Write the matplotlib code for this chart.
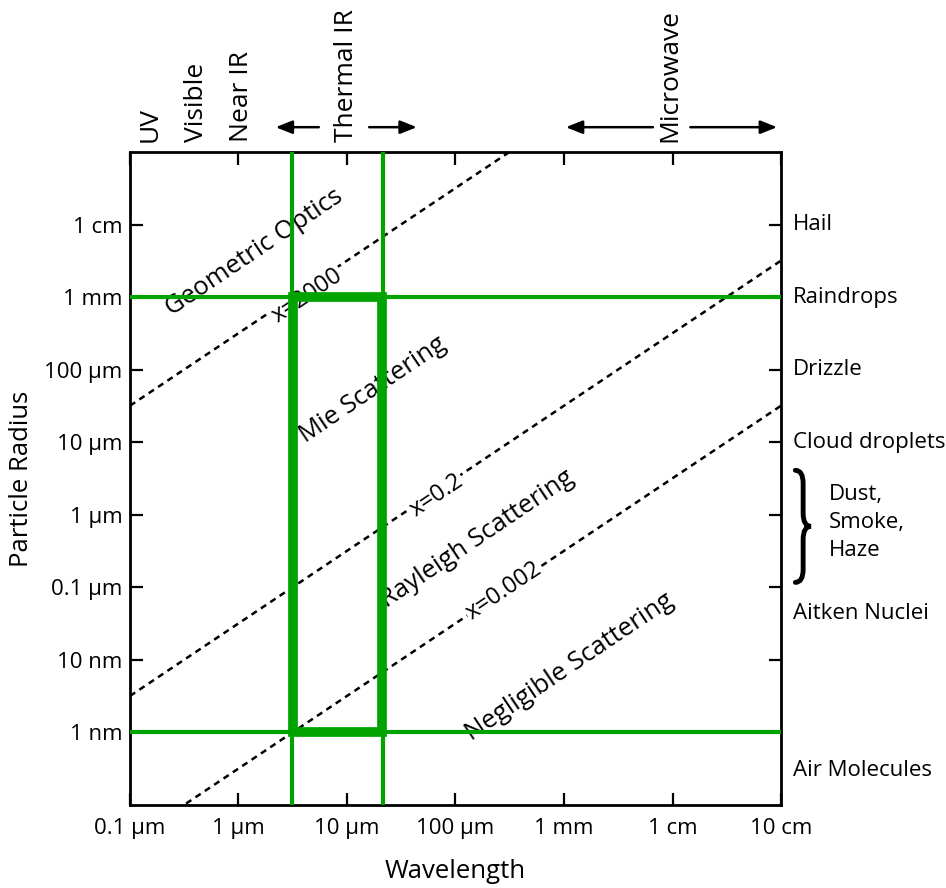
import numpy as np
import matplotlib
matplotlib.use("Agg")
import matplotlib.pyplot as plt
from matplotlib.path import Path
from matplotlib.patches import PathPatch, Rectangle
import matplotlib.transforms as mtransforms

plt.rcParams['font.family'] = ['Open Sans', 'DejaVu Sans']

# ---- data ----
x_ticks = [1e-7, 1e-6, 1e-5, 1e-4, 1e-3, 1e-2, 1e-1]
x_ticklabels = ['0.1 µm', '1 µm', '10 µm', '100 µm', '1 mm', '1 cm', '10 cm']
y_ticks = [1e-9, 1e-8, 1e-7, 1e-6, 1e-5, 1e-4, 1e-3, 1e-2]
y_ticklabels = ['1 nm', '10 nm', '0.1 µm', '1 µm', '10 µm', '100 µm', '1 mm', '1 cm']
x_limits = [1e-7, 1e-1]
y_limits = [1e-10, 1e-1]

size_params = [2000, 0.2, 0.002]           # x = 2*pi*r / lambda
size_param_labels = ['x=2000', 'x=0.2', 'x=0.002']
size_label_pos = [(4.3e-6, 1.06e-3), (6.7e-5, 1.85e-6), (2.8e-4, 9.0e-8)]

region_labels = ['Geometric Optics', 'Mie Scattering', 'Rayleigh Scattering', 'Negligible Scattering']
region_pos = [(1.4e-6, 4.1e-3), (1.75e-5, 5.3e-5), (1.6e-4, 4.6e-7), (1.12e-3, 8.0e-9)]

band_labels = ['UV', 'Visible', 'Near IR', 'Thermal IR', 'Microwave']
band_pos = [1.53e-7, 4.1e-7, 1.07e-6, 9.8e-6, 9.4e-3]
band_arrows = [(5.5e-6, 2.2e-6), (1.6e-5, 4.4e-5), (6.6e-3, 1.04e-3), (1.46e-2, 9.2e-2)]

particle_labels = ['Hail', 'Raindrops', 'Drizzle', 'Cloud droplets', 'Aitken Nuclei', 'Air Molecules']
particle_pos = [1e-2, 1e-3, 1e-4, 1e-5, 4.3e-8, 3e-10]
dust_label = 'Dust,\nSmoke,\nHaze'
dust_range = [4.1e-6, 1.17e-7]

window_x = [3.1e-6, 21.5e-6]      # thin vertical green lines
window_y = [1e-9, 1e-3]           # thin horizontal green lines
box_x = [3.2e-6, 21e-6]           # thick box

green = '#00a300'

fig = plt.figure(figsize=(9.46, 8.88), dpi=100)
ax = fig.add_axes([130/946, 1-805/888, 651/946, 653/888])
ax.set_xscale('log')
ax.set_yscale('log')
ax.set_xlim(*x_limits)
ax.set_ylim(*y_limits)

ax.set_xticks(x_ticks)
ax.set_xticklabels(x_ticklabels, fontsize=16)
ax.set_yticks(y_ticks)
ax.set_yticklabels(y_ticklabels, fontsize=16)
ax.minorticks_off()
ax.tick_params(direction='in', length=9, width=1.6, top=True, right=True)
ax.tick_params(axis='y', pad=5.5)
ax.tick_params(axis='x', pad=9)
for s in ax.spines.values():
    s.set_linewidth(2)

ax.set_xlabel('Wavelength', fontsize=18.5, labelpad=15)
ax.set_ylabel('Particle Radius', fontsize=18.5, labelpad=7)

# size-parameter dashed lines
lam = np.array(x_limits)
for sp in size_params:
    r = sp * lam / (2 * np.pi)
    ax.plot(lam, r, color='black', lw=1.8, ls=(0, (2.5, 2.0)), zorder=2)

for lab, (xx, yy) in zip(size_param_labels, size_label_pos):
    ax.text(xx, yy, lab, rotation=34, ha='center', va='center', fontsize=17,
            rotation_mode='anchor', zorder=3,
            bbox=dict(facecolor='white', edgecolor='none', pad=1))

for lab, (xx, yy) in zip(region_labels, region_pos):
    ax.text(xx, yy, lab, rotation=34, ha='center', va='center', fontsize=18.5,
            rotation_mode='anchor', zorder=3)

# green lines
for xv in window_x:
    ax.axvline(xv, color=green, lw=3, zorder=5)
for yv in window_y:
    ax.axhline(yv, color=green, lw=3, zorder=5)
ax.add_patch(Rectangle((box_x[0], window_y[0]), box_x[1]-box_x[0], window_y[1]-window_y[0],
                       fill=False, edgecolor=green, lw=7, zorder=6))

# top band labels
trans_top = mtransforms.blended_transform_factory(ax.transData, ax.transAxes)
for lab, xx in zip(band_labels, band_pos):
    ax.text(xx, 1.016, lab, rotation=90, ha='center', va='bottom', fontsize=19,
            transform=trans_top, clip_on=False)
for (x0, x1) in band_arrows:
    ax.annotate('', xy=(x1, 1.038), xytext=(x0, 1.038), xycoords=trans_top, textcoords=trans_top,
                arrowprops=dict(arrowstyle='-|>,head_length=1.0,head_width=0.4', color='black', lw=1.8,
                                shrinkA=0, shrinkB=0), annotation_clip=False)

# right-side particle labels
trans_right = mtransforms.blended_transform_factory(ax.transAxes, ax.transData)
for lab, yy in zip(particle_labels, particle_pos):
    ax.text(1.018, yy, lab, ha='left', va='center', fontsize=16, transform=trans_right, clip_on=False)

# brace
def y_axes(v):
    lo, hi = np.log10(y_limits)
    return (np.log10(v) - lo) / (hi - lo)
yt, yb = y_axes(dust_range[0]), y_axes(dust_range[1])
ym = (yt + yb) / 2
x0, x1, x2 = 1.022, 1.034, 1.046
c = 0.02
verts = [(x0, yt), (x1, yt), (x1, yt - c), (x1, yt - c),
         (x1, ym + c), (x1, ym + c),
         (x1, ym), (x2, ym),
         (x1, ym), (x1, ym - c),
         (x1, ym - c), (x1, yb + c),
         (x1, yb + c), (x1, yb), (x0, yb)]
codes = [Path.MOVETO, Path.CURVE3, Path.CURVE3, Path.LINETO,
         Path.LINETO, Path.LINETO,
         Path.CURVE3, Path.CURVE3,
         Path.CURVE3, Path.CURVE3,
         Path.LINETO, Path.LINETO,
         Path.LINETO, Path.CURVE3, Path.CURVE3]
brace = PathPatch(Path(verts, codes), transform=ax.transAxes, fill=False, lw=3.5,
                  edgecolor='black', clip_on=False, capstyle='round')
ax.add_patch(brace)
ax.text(1.074, ym + 0.006, dust_label, ha='left', va='center', fontsize=16, linespacing=1.45,
        transform=ax.transAxes, clip_on=False)

fig.savefig('out.png', dpi=100)
